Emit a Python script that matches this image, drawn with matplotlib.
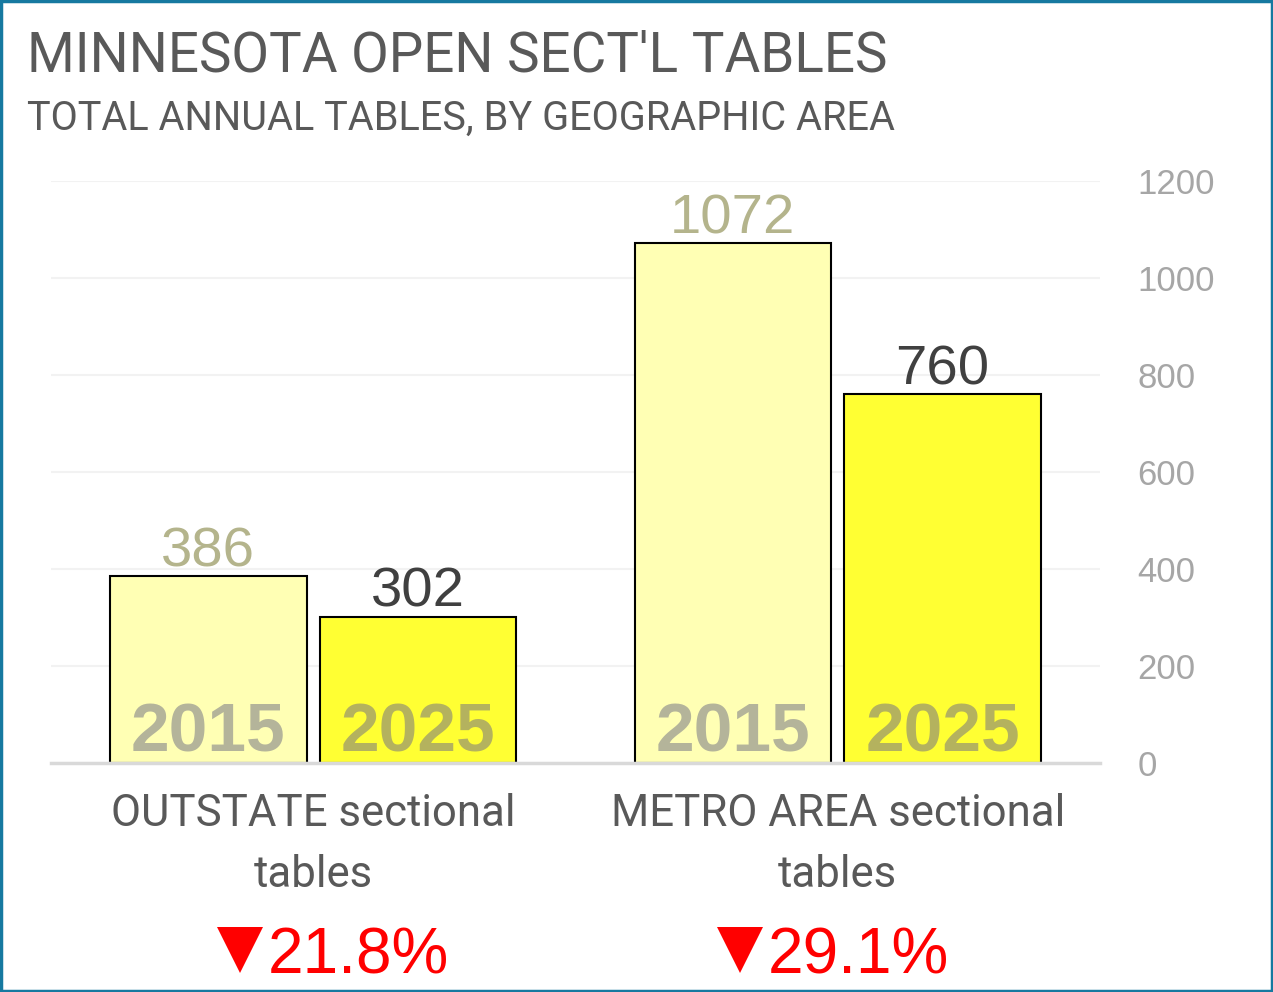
import matplotlib
matplotlib.use("Agg")
import matplotlib.pyplot as plt
import matplotlib.transforms as mtransforms
from matplotlib.patches import Rectangle
from matplotlib.lines import Line2D

categories = ["OUTSTATE sectional\ntables", "METRO AREA sectional\ntables"]
years = ["2015", "2025"]
values_2015 = [386, 1072]
values_2025 = [302, 760]
yticks = [0, 200, 400, 600, 800, 1000, 1200]

title = "MINNESOTA OPEN SECT'L TABLES"
subtitle = "TOTAL ANNUAL TABLES, BY GEOGRAPHIC AREA"

W, H = 1273, 992
fig = plt.figure(figsize=(W / 100, H / 100), dpi=100)
fig.patch.set_facecolor("white")

ax = fig.add_axes([51 / W, 1 - 763 / H, (1100 - 51) / W, (763 - 181) / H])
ax.set_xlim(-0.5, 1.5)
ax.set_ylim(0, 1200)

head_font = "Roboto"
num_font = "Liberation Sans"

bar_w = 0.375
off = 0.2
xs = list(range(len(categories)))
fills = ["#FFFFB4", "#FFFF33"]
val_colors = ["#B4B48C", "#404040"]
in_colors = ["#B4B49A", "#B4B25E"]

for i, (vals, yr) in enumerate(zip([values_2015, values_2025], years)):
    pos = [x + (-off if i == 0 else off) for x in xs]
    bars = ax.bar(pos, vals, width=bar_w, color=fills[i], edgecolor="black",
                  linewidth=1.5, zorder=3)
    for b, v in zip(bars, vals):
        cx = b.get_x() + b.get_width() / 2
        ax.annotate(str(v), (cx, v), xytext=(0, 7), textcoords="offset points",
                    ha="center", va="baseline", fontsize=40.5, family=num_font,
                    color=val_colors[i], zorder=4)
        ax.annotate(yr, (cx, 0), xytext=(0, 8), textcoords="offset points",
                    ha="center", va="baseline", fontsize=50, fontweight="bold",
                    family=num_font, color=in_colors[i], zorder=4)

# grid and axes styling
ax.set_yticks(yticks)
ax.yaxis.grid(True, color="#F2F2F2", linewidth=1.5, zorder=0)
ax.set_axisbelow(True)
for s in ["top", "left", "right"]:
    ax.spines[s].set_visible(False)
ax.spines["bottom"].set_color("#D9D9D9")
ax.spines["bottom"].set_linewidth(2.5)
ax.spines["bottom"].set_zorder(5)
ax.yaxis.tick_right()
ax.tick_params(axis="y", length=0, pad=27, labelsize=25, labelcolor="#A6A6A6")
for lab in ax.get_yticklabels():
    lab.set_family(num_font)
    lab.set_horizontalalignment("left")
ax.set_xticks([])

# category labels
trans = mtransforms.blended_transform_factory(ax.transData, fig.transFigure)
for x, c in zip(xs, categories):
    ax.text(x, 1 - 793 / H, c, transform=trans, ha="center", va="top",
            fontsize=31.5, family=head_font, color="#595959", linespacing=1.57)

# percentage change labels
changes = [(b - a) / a * 100 for a, b in zip(values_2015, values_2025)]
tri_x = [239.5, 739.5]
for tx, ch in zip(tri_x, changes):
    fig.add_artist(Line2D([tx / W], [1 - 950 / H], transform=fig.transFigure,
                          marker="v", markersize=32.5, color="#FF0000",
                          markeredgewidth=0, linestyle="none"))
    fig.text((tx + 28) / W, 1 - 973 / H, f"{abs(ch):.1f}%", ha="left",
             va="baseline", fontsize=46, color="#FF0000", family=num_font)

# titles
fig.text(27 / W, 1 - 72 / H, title, ha="left", va="baseline", fontsize=39.4,
         family=head_font, color="#595959")
fig.text(27 / W, 1 - 130 / H, subtitle, ha="left", va="baseline", fontsize=28.5,
         family=head_font, color="#595959")

# border
fig.patches.append(Rectangle((0.001, 0.001), 0.998, 0.998, transform=fig.transFigure,
                             fill=False, edgecolor="#1679A0", linewidth=2.5))

fig.savefig("out.png", dpi=100)
